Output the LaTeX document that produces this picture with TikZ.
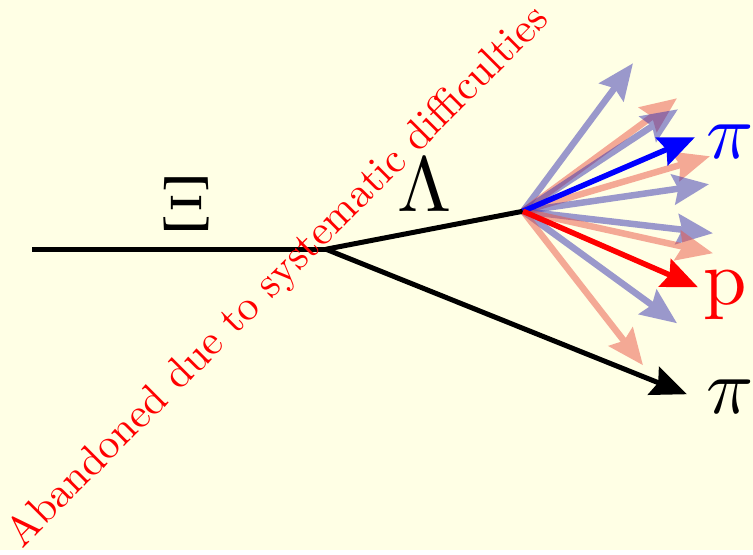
\documentclass[tikz,border=0pt]{standalone}
\usetikzlibrary{arrows.meta}
\definecolor{paper}{RGB}{255,255,229}
\definecolor{fadeblue}{RGB}{55,51,178}
\definecolor{fadered}{RGB}{235,85,70}
\font\labelrm=cmr10 at 78pt
\font\labelmi=cmmi10 at 78pt
\font\noterm=cmr10 at 42pt
\tikzset{
  track/.style={line width=5pt, black},
  head/.style={-{Stealth[length=36pt,width=30pt,inset=5pt]}},
  ghost/.style={line width=6.5pt, head},
  label/.style={inner sep=0pt},
}
\begin{document}
\begin{tikzpicture}[x=1pt,y=-1pt]
\fill[paper] (0,0) rectangle (753,550);

\coordinate (xi) at (32,249);
\coordinate (v1) at (326,249);
\coordinate (v2) at (523,211);
\coordinate (pib) at (687,394);
\coordinate (pia) at (695,137);
\coordinate (pr) at (698,287);

% other possible decay directions
\foreach \x/\y/\c [count=\i] in {633/63/fadeblue, 677/98/fadered, 678/109/fadeblue,
    710/156/fadered, 709/184/fadeblue, 713/233/fadeblue, 713/253/fadered,
    677/323/fadeblue, 643/365/fadered}{
  \coordinate (g\i) at (\x,\y);
  \begin{scope}[transparency group, opacity=0.5]
    \draw[ghost, \c] (v2) -- (g\i);
  \end{scope}
}

\draw[track] (xi) -- (v1);
\draw[track] (v1) -- (v2);
\draw[track, head] (v1) -- (pib);
\draw[line width=5.5pt, blue, head] (v2) -- (pia);
\draw[line width=5.5pt, red, head] (v2) -- (pr);

\node[label] (xil) at (186,204) {\labelrm\char4};
\node[label] (laml) at (425,185) {\labelrm\char3};
\node[label, blue] (pial) at (729,141) {\labelmi\char25};
\node[label, red] (prl) at (725,295) {\labelrm p};
\node[label] (pibl) at (729,396) {\labelmi\char25};

\node[rotate=45, anchor=base west, inner sep=0pt, text=red] (note) at (22,549)
  {\noterm Abandoned due to systematic difficulties};
\end{tikzpicture}
\end{document}
